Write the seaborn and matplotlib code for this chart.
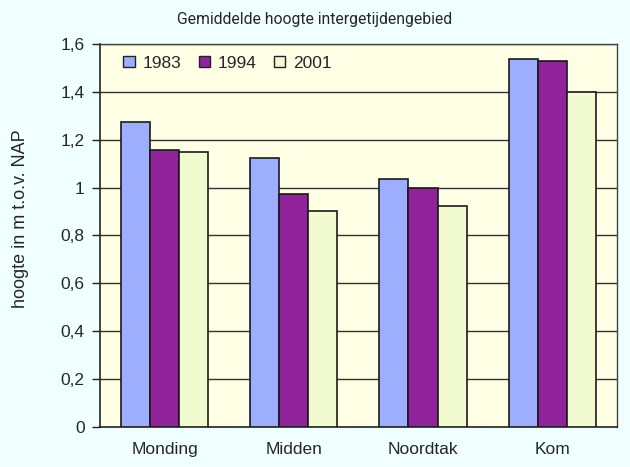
import pandas as pd
import numpy as np
import matplotlib.pyplot as plt
import seaborn as sns

# data
gebieden = ['Monding', 'Midden', 'Noordtak', 'Kom']
jaren = ['1983', '1994', '2001']
h1983 = [1.272, 1.123, 1.036, 1.539]
h1994 = [1.158, 0.972, 0.998, 1.527]
h2001 = [1.150, 0.900, 0.925, 1.400]
yticks = [0, 0.2, 0.4, 0.6, 0.8, 1.0, 1.2, 1.4, 1.6]
ylabels = ['0', '0,2', '0,4', '0,6', '0,8', '1', '1,2', '1,4', '1,6']

df = pd.DataFrame({
    'gebied': gebieden * 3,
    'jaar': [j for j in jaren for _ in gebieden],
    'hoogte': h1983 + h1994 + h2001,
})

kleuren = ['#9DAEFF', '#90239A', '#F2FAD0']

sns.set_style('white')
plt.rcParams['font.family'] = ['Liberation Sans', 'DejaVu Sans']

fig = plt.figure(figsize=(6.3, 4.67), dpi=100, facecolor='#F0FFFF')
ax = fig.add_axes([0.1587, 0.0857, 0.8203, 0.8203])
ax.set_facecolor('#FFFFE6')

sns.barplot(data=df, x='gebied', y='hoogte', hue='jaar', palette=kleuren,
            saturation=1, width=0.675, edgecolor='#1a1a1a', linewidth=1.2,
            ax=ax, zorder=3)

ax.set_ylim(0, 1.6)
ax.set_xlim(-0.5, 3.5)
ax.set_yticks(yticks)
ax.set_yticklabels(ylabels, fontsize=12.5)
for y in yticks[1:]:
    ax.axhline(y, color='#333333', lw=1.0, zorder=1)

ax.set_xticks(range(4))
ax.set_xticklabels(gebieden, fontsize=12.5)
ax.tick_params(axis='x', length=0, pad=11)
ax.set_xticks(np.arange(-0.5, 4, 1), minor=True)
ax.tick_params(axis='x', which='minor', length=6, width=1, color='#222222', direction='out')
ax.tick_params(axis='y', length=6, width=1, color='#222222', direction='out', left=True, pad=5)

for s in ['left', 'bottom']:
    ax.spines[s].set_color('#222222')
    ax.spines[s].set_linewidth(1.2)
for s in ['top', 'right']:
    ax.spines[s].set_color('#444444')
    ax.spines[s].set_linewidth(1.0)

ax.set_xlabel('')
ax.set_ylabel('hoogte in m t.o.v. NAP', fontsize=13)
ax.yaxis.set_label_coords(-0.137, 0.545)
fig.suptitle('Gemiddelde hoogte intergetijdengebied', x=0.5, y=0.974,
             fontsize=11.3, family=['Roboto', 'Liberation Sans'])

leg = ax.legend(loc='upper left', ncol=3, frameon=False, fontsize=12.5,
                handlelength=0.65, handleheight=0.65, handletextpad=0.45,
                columnspacing=1.0, bbox_to_anchor=(0.015, 1.01))
for p in leg.get_patches():
    p.set_edgecolor('#222222')
    p.set_linewidth(1.0)

plt.savefig('out.png', dpi=100, facecolor=fig.get_facecolor())
